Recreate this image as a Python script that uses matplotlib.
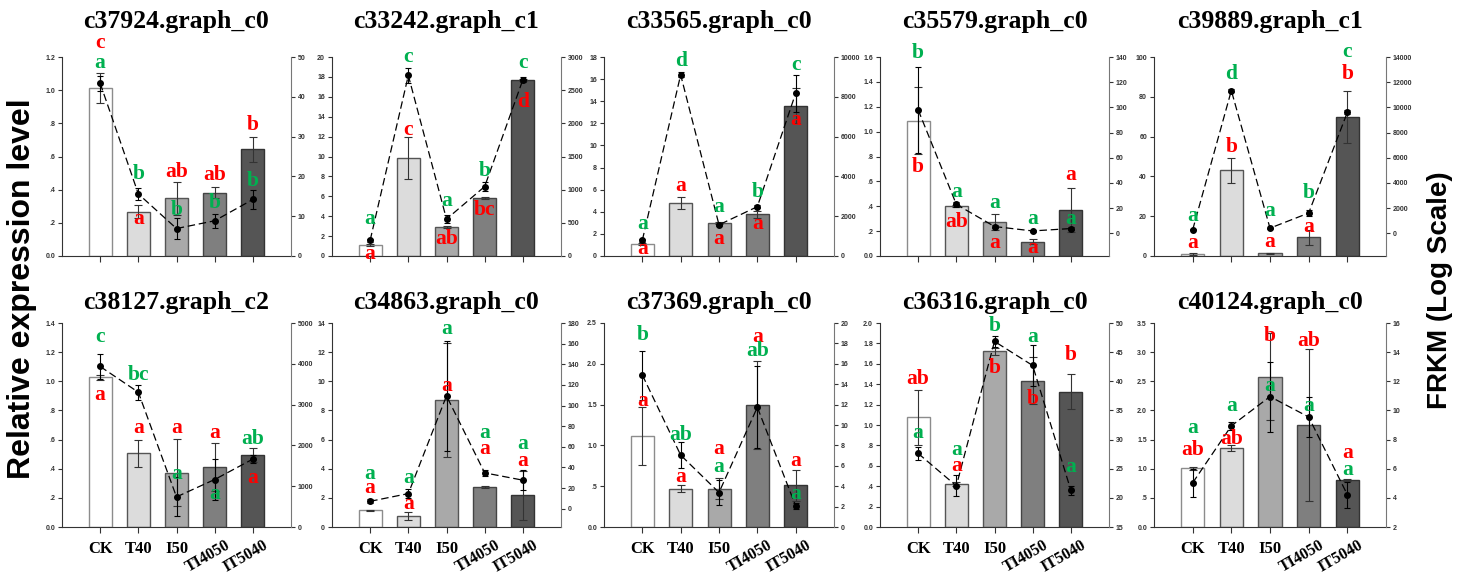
import numpy as np
import matplotlib
matplotlib.use("Agg")
import matplotlib.pyplot as plt
from matplotlib.ticker import FuncFormatter
from matplotlib import transforms

categories = ["CK", "T40", "I50", "TI4050", "IT5040"]

titles = ["c37924.graph_c0", "c33242.graph_c1", "c33565.graph_c0", "c35579.graph_c0", "c39889.graph_c1",
          "c38127.graph_c2", "c34863.graph_c0", "c37369.graph_c0", "c36316.graph_c0", "c40124.graph_c0"]

# relative expression level (bars, left axis)
rel_expr = [
    [1.012, 0.267, 0.348, 0.381, 0.644],
    [1.08, 9.88, 2.93, 5.80, 17.7],
    [1.06, 4.80, 2.98, 3.77, 13.6],
    [1.088, 0.403, 0.274, 0.115, 0.370],
    [1.0, 43.0, 1.3, 9.3, 70.0],
    [1.026, 0.505, 0.372, 0.409, 0.493],
    [1.15, 0.76, 8.72, 2.75, 2.18],
    [1.115, 0.471, 0.471, 1.496, 0.512],
    [1.075, 0.420, 1.721, 1.433, 1.328],
    [1.004, 1.360, 2.582, 1.750, 0.803],
]
rel_err = [
    [0.09, 0.04, 0.10, 0.034, 0.075],
    [0.1, 2.1, 0.1, 0.1, 0.1],
    [0.1, 0.58, 0.1, 0.33, 1.6],
    [0.27, 0.01, 0.066, 0.022, 0.18],
    [0.3, 6.4, 0.3, 4.0, 13.0],
    [0.02, 0.09, 0.23, 0.165, 0.05],
    [0.05, 0.3, 3.9, 0.05, 1.68],
    [0.36, 0.04, 0.13, 0.54, 0.19],
    [0.27, 0.02, 0.03, 0.23, 0.17],
    [0.02, 0.05, 0.75, 1.3, 0.02],
]
# FRKM (dashed line, right axis)
frkm = [
    [43.4, 15.6, 6.9, 8.85, 14.2],
    [238, 2722, 556, 1047, 2656],
    [792, 9104, 1568, 2478, 8177],
    [98.0, 23.0, 5.4, 1.9, 3.8],
    [267, 11333, 400, 1600, 9600],
    [3934, 3303, 738, 1164, 1664],
    [7.1, 14.6, 109.3, 34.7, 27.6],
    [14.9, 7.05, 3.38, 11.74, 2.07],
    [27.62, 22.06, 46.84, 42.71, 21.31],
    [5.03, 8.94, 10.95, 9.55, 4.22],
]
frkm_err = [
    [1.9, 1.5, 2.6, 1.7, 2.4],
    [20, 110, 60, 70, 40],
    [80, 130, 50, 80, 930],
    [34, 2, 1, 1, 1],
    [50, 100, 50, 250, 150],
    [310, 180, 480, 500, 100],
    [2, 4, 53, 3, 10],
    [2.4, 1.3, 1.2, 4.0, 0.3],
    [1.15, 1.8, 0.9, 3.6, 0.8],
    [0.97, 0.3, 2.4, 1.4, 0.9],
]

left_max = [1.2, 20, 18, 1.6, 100, 1.4, 14, 2.5, 2.0, 3.5]
left_step = [0.2, 2, 2, 0.2, 20, 0.2, 2, 0.5, 0.2, 0.5]
right_lim = [(0, 50), (0, 3000), (0, 10000), (-18, 140), (-1813, 14000),
             (0, 5000), (-17.8, 180), (0, 20), (15, 50), (2, 16)]
right_step = [10, 500, 2000, 20, 2000, 1000, 20, 2, 5, 2]

# significance letters (red: expression, green: FRKM)
red_letters = [["c", "a", "ab", "ab", "b"], ["a", "c", "ab", "bc", "d"], ["a", "a", "a", "a", "a"],
               ["b", "ab", "a", "a", "a"], ["a", "b", "a", "a", "b"], ["a", "a", "a", "a", "a"],
               ["a", "a", "a", "a", "a"], ["a", "a", "a", "a", "a"], ["ab", "a", "b", "b", "b"],
               ["ab", "ab", "b", "ab", "a"]]
green_letters = [["a", "b", "b", "b", "b"], ["a", "c", "a", "b", "c"], ["a", "d", "a", "b", "c"],
                 ["b", "a", "a", "a", "a"], ["a", "d", "a", "b", "c"], ["c", "bc", "a", "a", "ab"],
                 ["a", "a", "a", "a", "a"], ["b", "ab", "a", "ab", "a"], ["a", "a", "b", "a", "a"],
                 ["a", "a", "a", "a", "a"]]
# letter heights as fraction of axes height
red_pos = [
    [1.071, 0.185, 0.422, 0.405, 0.658],
    [0.008, 0.632, 0.084, 0.231, 0.776],
    [0.034, 0.354, 0.084, 0.160, 0.683],
    [0.449, 0.170, 0.067, 0.038, 0.406],
    [0.067, 0.548, 0.072, 0.148, 0.916],
    [0.648, 0.484, 0.484, 0.462, 0.238],
    [0.189, 0.111, 0.689, 0.380, 0.323],
    [0.620, 0.243, 0.380, 0.931, 0.323],
    [0.725, 0.298, 0.779, 0.626, 0.844],
    [0.377, 0.430, 0.934, 0.910, 0.361],
]
green_pos = [
    [0.970, 0.413, 0.231, 0.265, 0.379],
    [0.185, 1.0, 0.278, 0.425, 0.970],
    [0.160, 0.978, 0.245, 0.320, 0.961],
    [1.022, 0.324, 0.265, 0.187, 0.187],
    [0.202, 0.916, 0.224, 0.317, 1.025],
    [0.931, 0.746, 0.262, 0.164, 0.430],
    [0.262, 0.241, 0.970, 0.462, 0.405],
    [0.943, 0.451, 0.295, 0.861, 0.164],
    [0.459, 0.377, 0.987, 0.931, 0.295],
    [0.487, 0.593, 0.689, 0.593, 0.279],
]

bar_colors = ["white", "#DCDCDC", "#A9A9A9", "#7F7F7F", "#555555"]
bar_edges = ["#8C8C8C", "#555555", "#555555", "#444444", "#333333"]
RED = "#FF0000"
GREEN = "#00B050"
SERIF = "Liberation Serif"
SANS = "Liberation Sans"

W, H = 1462, 577
fig = plt.figure(figsize=(W / 100, H / 100), dpi=100)

col_px = [(62, 291), (332, 561), (604, 834), (880, 1109), (1154, 1386)]
row_px = [(57, 256), (323, 527)]


def left_formatter(step):
    def f(v, pos):
        if step < 1:
            s = "%.1f" % v
            if s.startswith("0.") and abs(v) > 1e-9:
                s = s[1:]
            return s
        return "%d" % round(v)
    return FuncFormatter(f)


x = np.arange(len(categories))

for i in range(10):
    r, c = divmod(i, 5)
    l, rr = col_px[c]
    t, b = row_px[r]
    ax = fig.add_axes([l / W, 1 - b / H, (rr - l) / W, (b - t) / H])
    ax2 = ax.twinx()

    ax.bar(x, rel_expr[i], width=0.6, color=bar_colors, edgecolor=bar_edges, linewidth=1.0, zorder=2)
    ax.errorbar(x, rel_expr[i], yerr=rel_err[i], fmt="none", ecolor="#333333",
                elinewidth=0.8, capsize=3, capthick=0.8, zorder=3)
    ax2.errorbar(x, frkm[i], yerr=frkm_err[i], fmt="o", color="black", ms=4,
                 elinewidth=0.8, capsize=2.5, capthick=0.8, zorder=4)
    ax2.plot(x, frkm[i], color="black", lw=0.9, linestyle=(0, (6, 3)), zorder=4)

    ax.set_xlim(-1, 5)
    ax.set_ylim(0, left_max[i])
    ax.set_yticks(np.arange(0, left_max[i] + left_step[i] / 2, left_step[i]))
    ax.yaxis.set_major_formatter(left_formatter(left_step[i]))
    lo, hi = right_lim[i]
    ax2.set_ylim(lo, hi)
    start = np.ceil(lo / right_step[i]) * right_step[i]
    ax2.set_yticks(np.arange(start, hi + right_step[i] / 2, right_step[i]))
    ax2.yaxis.set_major_formatter(FuncFormatter(lambda v, pos: "%d" % round(v)))

    for a in (ax, ax2):
        a.spines["top"].set_visible(False)
        a.tick_params(axis="y", labelsize=5, length=3, width=0.8, colors="#333333", pad=2)
        for lab in a.get_yticklabels():
            lab.set_fontfamily(SANS)
            lab.set_fontweight("bold")
    ax.spines["right"].set_visible(False)
    ax2.spines["left"].set_visible(False)
    ax2.spines["bottom"].set_visible(False)
    ax.spines["left"].set_color("#333333")
    ax.spines["bottom"].set_color("#333333")
    ax2.spines["right"].set_color("#777777")

    ax.set_xticks(x)
    ax.tick_params(axis="x", length=4, width=0.8, colors="#333333", pad=6)
    if r == 1:
        ax.set_xticklabels(categories, fontfamily=SERIF, fontweight="bold", fontsize=12, color="black")
        for k, lab in enumerate(ax.get_xticklabels()):
            if k >= 3:
                lab.set_fontsize(11.5)
                lab.set_rotation(30)
                lab.set_ha("right")
                lab.set_va("top")
                lab.set_rotation_mode("anchor")
                lab.set_transform(lab.get_transform() + transforms.ScaledTranslation(10 / 100, 4 / 100, fig.dpi_scale_trans))
    else:
        ax.set_xticklabels([])

    ax.set_title(titles[i], fontfamily=SERIF, fontweight="bold", fontsize=18.5,
                 pad=21 if r == 0 else 10)

    trans = transforms.blended_transform_factory(ax2.transData, ax2.transAxes)
    for k in range(5):
        ax2.text(x[k], red_pos[i][k], red_letters[i][k], transform=trans, color=RED,
                 fontfamily=SERIF, fontweight="bold", fontsize=15.5, ha="center", va="center", zorder=6)
        ax2.text(x[k], green_pos[i][k], green_letters[i][k], transform=trans, color=GREEN,
                 fontfamily=SERIF, fontweight="bold", fontsize=15.5, ha="center", va="center", zorder=6)

fig.text(0.015, 0.50, "Relative expression level", rotation=90, ha="center", va="center",
         fontfamily=SANS, fontweight="bold", fontsize=23)
fig.text(0.985, 0.497, "FRKM (Log Scale)", rotation=90, ha="center", va="center",
         fontfamily=SANS, fontweight="bold", fontsize=20)

fig.savefig("out.png", dpi=100)
